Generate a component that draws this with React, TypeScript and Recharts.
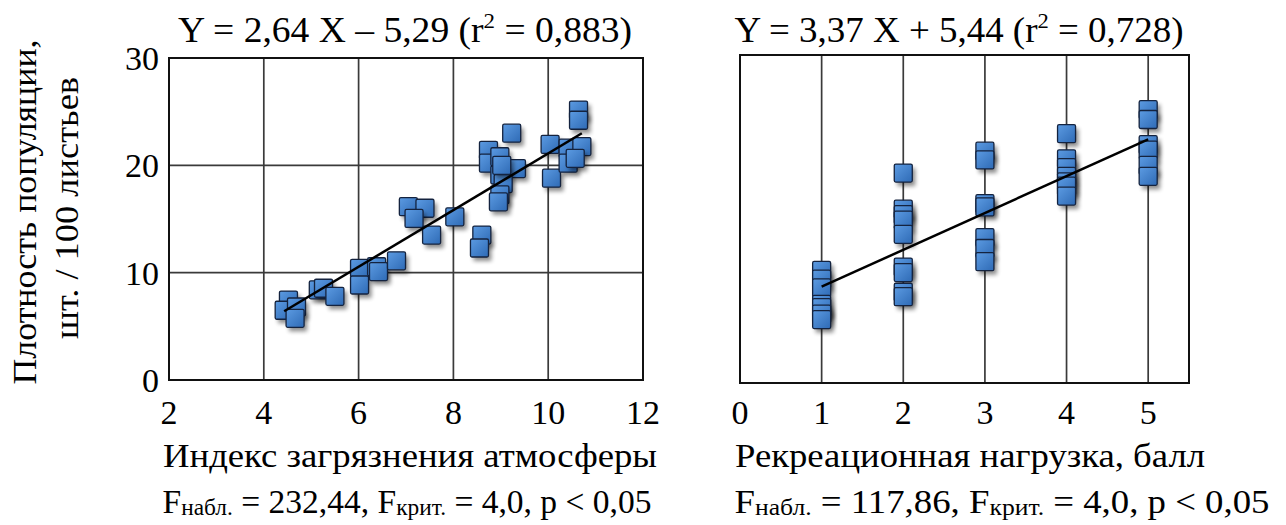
import React from "react";
import {
  ScatterChart,
  Scatter,
  XAxis,
  YAxis,
  CartesianGrid,
  ReferenceArea,
} from "recharts";

// left panel: pollution index vs population density
const pollutionX = [
  4.52, 4.43, 4.69, 4.66, 5.15, 5.26, 5.5, 6.02, 6.02, 6.38, 6.42, 6.8,
  7.05, 7.4, 7.17, 7.54, 8.03, 8.6, 8.55, 8.74, 8.74, 8.98, 9.23, 9.33,
  8.98, 9.05, 8.98, 8.95, 10.04, 10.07, 10.42, 10.42, 10.71, 10.64, 10.64,
  10.57, 9.02,
];
const pollutionY = [
  7.45, 6.5, 6.8, 5.75, 8.4, 8.55, 7.8, 10.4, 8.85, 10.55, 10.1, 11.1,
  16.15, 16.0, 15.05, 13.5, 15.2, 13.5, 12.3, 21.4, 20.2, 20.8, 23.0, 19.7,
  19.1, 18.3, 17.25, 16.6, 21.95, 18.8, 21.6, 20.2, 21.75, 25.15, 24.2,
  20.65, 20.0,
];

// right panel: recreational load (score) vs population density
const loadX = [
  1, 1, 1, 1, 1, 1, 1,
  2, 2, 2, 2, 2, 2, 2, 2, 2,
  3, 3, 3, 3, 3, 3, 3,
  4, 4, 4, 4, 4, 4, 4,
  5, 5, 5, 5, 5, 5,
];
const loadY = [
  10.3, 9.5, 8.7, 7.2, 6.9, 6.3, 5.8,
  19.2, 15.9, 15.4, 14.9, 13.6, 10.6, 10.1, 8.3, 7.9,
  21.2, 20.4, 16.4, 16.1, 13.3, 12.3, 11.1,
  22.8, 20.5, 19.7, 18.9, 18.4, 18.0, 17.1,
  25.0, 24.1, 21.8, 21.3, 19.9, 18.9,
];

const pollutionTicks = [2, 4, 6, 8, 10, 12];
const loadTicks = [0, 1, 2, 3, 4, 5];
const densityTicks = [0, 10, 20, 30];

const fitLeft = { slope: 2.64, intercept: -5.29 };
const fitRight = { slope: 3.37, intercept: 5.44 };

const zip = (xs: number[], ys: number[]) => xs.map((x, i) => ({ x, y: ys[i] }));

const trend = (xs: number[], fit: { slope: number; intercept: number }) => {
  const lo = Math.min(...xs);
  const hi = Math.max(...xs);
  return [lo, hi].map((x) => ({ x, y: fit.slope * x + fit.intercept }));
};

const serif = "'Liberation Serif', 'Times New Roman', serif";
const tickStyle = { fontSize: 34, fill: "#000", fontFamily: serif };

const Square = (props: any) => {
  const { cx, cy } = props;
  if (cx == null || cy == null) return null;
  const s = 18;
  return (
    <g>
      <rect
        x={cx - s / 2 + 3}
        y={cy - s / 2 + 4}
        width={s}
        height={s}
        fill="#000"
        opacity={0.45}
        filter="url(#sqShadow)"
      />
      <rect
        x={cx - s / 2}
        y={cy - s / 2}
        width={s}
        height={s}
        rx={1.5}
        fill="url(#sqFill)"
        stroke="#14233f"
        strokeWidth={1.3}
      />
    </g>
  );
};

const NoDot = () => <g />;

// F-statistic line with subscripts
const FLine = ({ x, y, len, fobs }: { x: number; y: number; len: number; fobs: string }) => (
  <text
    x={x}
    y={y}
    textAnchor="middle"
    fontSize={33}
    textLength={len}
    lengthAdjust="spacingAndGlyphs"
  >
    F
    <tspan fontSize={23} dy={2}>набл.</tspan>
    <tspan dy={-2}>{` = ${fobs}, F`}</tspan>
    <tspan fontSize={23} dy={2}>крит.</tspan>
    <tspan dy={-2}>{" = 4,0, p < 0,05"}</tspan>
  </text>
);

const Equation = ({ x, y, len, a, op, b, r2 }: any) => (
  <text
    x={x}
    y={y}
    textAnchor="middle"
    fontSize={36}
    textLength={len}
    lengthAdjust="spacingAndGlyphs"
  >
    {`Y = ${a} X ${op} ${b} (r`}
    <tspan fontSize={22} dy={-14}>2</tspan>
    <tspan dy={14}>{` = ${r2})`}</tspan>
  </text>
);

export default function App() {
  const left = zip(pollutionX, pollutionY);
  const right = zip(loadX, loadY);

  return (
    <div
      style={{
        position: "absolute",
        left: 0,
        top: 0,
        width: 1286,
        height: 525,
        background: "#fff",
        fontFamily: serif,
        overflow: "hidden",
      }}
    >
      <div style={{ position: "absolute", left: 0, top: 0 }}>
        <ScatterChart
          width={660}
          height={525}
          margin={{ top: 58, right: 17, left: 109, bottom: 105 }}
        >
          <CartesianGrid stroke="#3a3a3a" strokeWidth={1.7} />
          <XAxis
            type="number"
            dataKey="x"
            domain={[2, 12]}
            ticks={pollutionTicks}
            axisLine={false}
            tickLine={false}
            tick={tickStyle}
            tickMargin={14}
            height={40}
          />
          <YAxis
            type="number"
            dataKey="y"
            domain={[0, 30]}
            ticks={densityTicks}
            axisLine={false}
            tickLine={false}
            tick={tickStyle}
            tickMargin={4}
            width={60}
          />
          <ReferenceArea
            x1={2}
            x2={12}
            y1={0}
            y2={30}
            fill="none"
            fillOpacity={0}
            stroke="#111"
            strokeWidth={2}
          />
          <Scatter data={left} shape={Square} isAnimationActive={false} />
          <Scatter
            data={trend(pollutionX, fitLeft)}
            line={{ stroke: "#000", strokeWidth: 2.5 }}
            shape={NoDot}
            isAnimationActive={false}
          />
        </ScatterChart>
      </div>

      <div style={{ position: "absolute", left: 0, top: 0 }}>
        <ScatterChart
          width={1210}
          height={525}
          margin={{ top: 55, right: 21, left: 740, bottom: 102 }}
        >
          <CartesianGrid stroke="#3a3a3a" strokeWidth={1.7} />
          <XAxis
            type="number"
            dataKey="x"
            domain={[0, 5.5]}
            ticks={loadTicks}
            axisLine={false}
            tickLine={false}
            tick={tickStyle}
            tickMargin={11}
            height={40}
          />
          <YAxis
            type="number"
            dataKey="y"
            domain={[0, 30]}
            ticks={densityTicks}
            axisLine={false}
            tickLine={false}
            tick={false}
            width={0}
          />
          <ReferenceArea
            x1={0}
            x2={5.5}
            y1={0}
            y2={30}
            fill="none"
            fillOpacity={0}
            stroke="#111"
            strokeWidth={2}
          />
          <Scatter data={right} shape={Square} isAnimationActive={false} />
          <Scatter
            data={trend(loadX, fitRight)}
            line={{ stroke: "#000", strokeWidth: 2.5 }}
            shape={NoDot}
            isAnimationActive={false}
          />
        </ScatterChart>
      </div>

      <svg
        width={1286}
        height={525}
        style={{ position: "absolute", left: 0, top: 0, pointerEvents: "none" }}
        fontFamily={serif}
        fill="#000"
      >
        <defs>
          <linearGradient id="sqFill" x1="0" y1="0" x2="1" y2="1">
            <stop offset="0%" stopColor="#5c9be2" />
            <stop offset="100%" stopColor="#2e6ab5" />
          </linearGradient>
          <filter id="sqShadow" x="-50%" y="-50%" width="200%" height="200%">
            <feGaussianBlur stdDeviation="2" />
          </filter>
        </defs>

        <Equation x={405} y={42} len={454} a="2,64" op="–" b="5,29" r2="0,883" />
        <Equation x={959} y={42} len={449} a="3,37" op="+" b="5,44" r2="0,728" />

        <g transform="translate(36, 212) rotate(-90)">
          <text x={0} y={0} textAnchor="middle" fontSize={34} textLength={345} lengthAdjust="spacingAndGlyphs">
            Плотность популяции,
          </text>
        </g>
        <g transform="translate(78, 208) rotate(-90)">
          <text x={0} y={0} textAnchor="middle" fontSize={34} textLength={262} lengthAdjust="spacingAndGlyphs">
            шт. / 100 листьев
          </text>
        </g>

        <text x={410} y={467} textAnchor="middle" fontSize={33} textLength={494} lengthAdjust="spacingAndGlyphs">
          Индекс загрязнения атмосферы
        </text>
        <text x={970} y={467} textAnchor="middle" fontSize={33} textLength={470} lengthAdjust="spacingAndGlyphs">
          Рекреационная нагрузка, балл
        </text>

        <FLine x={407} y={513} len={489} fobs="232,44" />
        <FLine x={1002} y={513} len={535} fobs="117,86" />
      </svg>
    </div>
  );
}
